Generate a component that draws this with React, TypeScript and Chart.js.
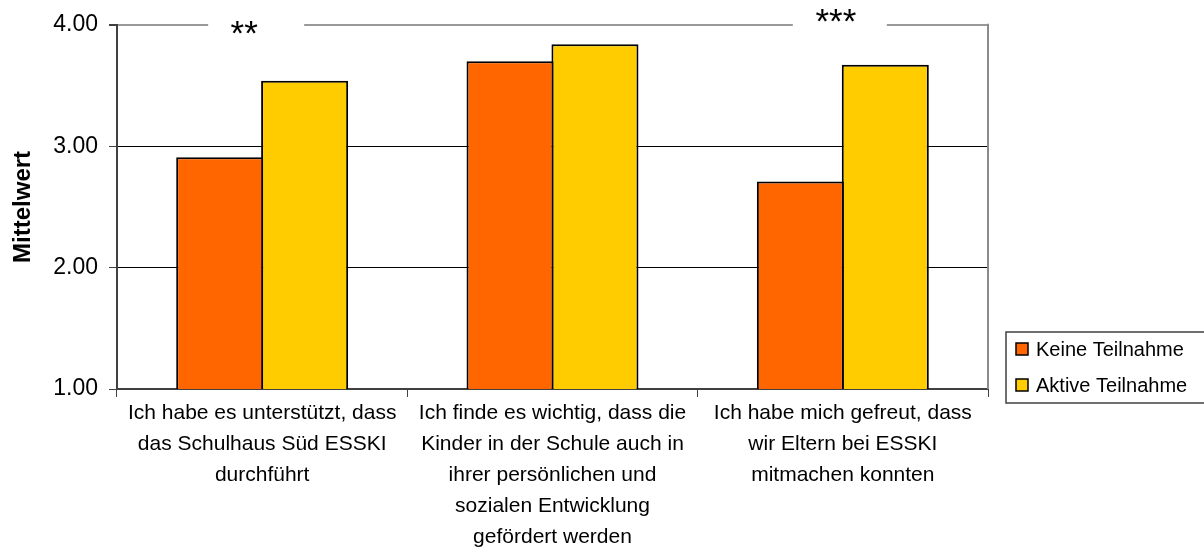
import { useEffect, useRef } from "react";
import { Chart, registerables } from "chart.js";

Chart.register(...registerables);

// Category labels (one entry per line)
const categories: string[][] = [
  ["Ich habe es unterstützt, dass", "das Schulhaus Süd ESSKI", "durchführt"],
  [
    "Ich finde es wichtig, dass die",
    "Kinder in der Schule auch in",
    "ihrer persönlichen und",
    "sozialen Entwicklung",
    "gefördert werden",
  ],
  ["Ich habe mich gefreut, dass", "wir Eltern bei ESSKI", "mitmachen konnten"],
];

const seriesNames = ["Keine Teilnahme", "Aktive Teilnahme"];
const keineTeilnahme = [2.91, 3.7, 2.71];
const aktiveTeilnahme = [3.54, 3.84, 3.67];
const significance = ["**", "", "***"];

const yMin = 1;
const yMax = 4;
const yStep = 1;
const yTitle = "Mittelwert";

const FONT = "'Liberation Sans', Arial, Helvetica, sans-serif";
const ORANGE = "#FF6600";
const YELLOW = "#FFCC00";

// Frame, significance markers and the boxed legend
const decorations = {
  id: "decorations",
  afterDraw(chart: any) {
    const { ctx, chartArea, scales } = chart;
    const x = scales.x;
    ctx.save();

    // right border of the plot area
    ctx.strokeStyle = "#8c8c8c";
    ctx.lineWidth = 2;
    ctx.beginPath();
    ctx.moveTo(chartArea.right, chartArea.top - 1);
    ctx.lineTo(chartArea.right, chartArea.bottom);
    ctx.stroke();

    // significance stars, each sitting in a white gap of the top border
    const marks = [
      { dx: -18, gapDx: -6, half: 48, cy: 25 },
      { dx: 0, gapDx: 0, half: 0, cy: 0 },
      { dx: -7, gapDx: -3, half: 47, cy: 13 },
    ];
    ctx.font = `35px ${FONT}`;
    ctx.textAlign = "center";
    ctx.textBaseline = "alphabetic";
    significance.forEach((txt, i) => {
      if (!txt) return;
      const m = marks[i];
      const base = x.getPixelForValue(i);
      ctx.fillStyle = "#ffffff";
      ctx.fillRect(base + m.gapDx - m.half, chartArea.top - 4, m.half * 2, 8);
      ctx.fillStyle = "#000000";
      ctx.fillText(txt, base + m.dx, m.cy + 20);
    });

    // legend box
    const lx = 1006;
    const ly = 332;
    const lb = 403;
    ctx.strokeStyle = "#404040";
    ctx.lineWidth = 1.5;
    ctx.strokeRect(lx, ly, 1210 - lx, lb - ly);
    const rows = [349, 385];
    ctx.textAlign = "left";
    ctx.textBaseline = "middle";
    ctx.font = `20px ${FONT}`;
    chart.data.datasets.forEach((ds: any, i: number) => {
      const ry = rows[i];
      ctx.fillStyle = ds.backgroundColor;
      ctx.fillRect(lx + 10, ry - 6, 12, 12);
      ctx.strokeStyle = "#000000";
      ctx.lineWidth = 1.5;
      ctx.strokeRect(lx + 10, ry - 6, 12, 12);
      ctx.fillStyle = "#000000";
      ctx.fillText(ds.label, lx + 30, ry + 1);
    });

    ctx.restore();
  },
};

export default function App() {
  const canvasRef = useRef<HTMLCanvasElement | null>(null);

  useEffect(() => {
    const canvas = canvasRef.current;
    if (!canvas) return;
    Chart.defaults.font.family = FONT;

    const chart = new Chart(canvas, {
      type: "bar",
      data: {
        labels: categories,
        datasets: [
          {
            label: seriesNames[0],
            data: keineTeilnahme,
            backgroundColor: ORANGE,
            borderColor: "#000000",
            borderWidth: 2,
            borderSkipped: false,
          },
          {
            label: seriesNames[1],
            data: aktiveTeilnahme,
            backgroundColor: YELLOW,
            borderColor: "#000000",
            borderWidth: 2,
            borderSkipped: false,
          },
        ],
      },
      options: {
        responsive: false,
        animation: false,
        events: [],
        layout: { padding: { top: 23, right: 216, left: 0, bottom: 0 } },
        datasets: {
          bar: { categoryPercentage: 0.585, barPercentage: 1.025 },
        },
        plugins: {
          legend: { display: false },
          tooltip: { enabled: false },
          title: { display: false },
        },
        scales: {
          x: {
            afterFit(scale: any) {
              scale.height = 165;
            },
            grid: {
              offset: true,
              drawOnChartArea: false,
              drawTicks: true,
              tickLength: 8,
              tickColor: "#404040",
            },
            border: { display: true, color: "#404040", width: 2 },
            ticks: {
              color: "#000000",
              font: { size: 21, family: FONT, lineHeight: "31px" },
              padding: 1,
              maxRotation: 0,
              minRotation: 0,
              autoSkip: false,
            },
          },
          y: {
            min: yMin,
            max: yMax,
            afterFit(scale: any) {
              scale.width = 117;
            },
            ticks: {
              stepSize: yStep,
              color: "#000000",
              font: { size: 23, family: FONT },
              padding: 11,
              callback: (v: any) => Number(v).toFixed(2),
            },
            grid: {
              color: (c: any) => (c.tick && c.tick.value === yMax ? "#999999" : "#000000"),
              lineWidth: (c: any) => (c.tick && c.tick.value === yMax ? 2 : 1),
              drawTicks: true,
              tickLength: 8,
              tickColor: "#404040",
            },
            border: { display: true, color: "#404040", width: 2 },
            title: {
              display: true,
              text: yTitle,
              color: "#000000",
              font: { size: 24, weight: "bold", family: FONT },
              padding: { top: 9, bottom: 0 },
            },
          },
        },
      },
      plugins: [decorations],
    } as any);

    return () => chart.destroy();
  }, []);

  return (
    <div style={{ position: "absolute", left: 0, top: 0, width: 1204, height: 554, background: "#ffffff" }}>
      <canvas ref={canvasRef} width={1204} height={554} />
    </div>
  );
}
